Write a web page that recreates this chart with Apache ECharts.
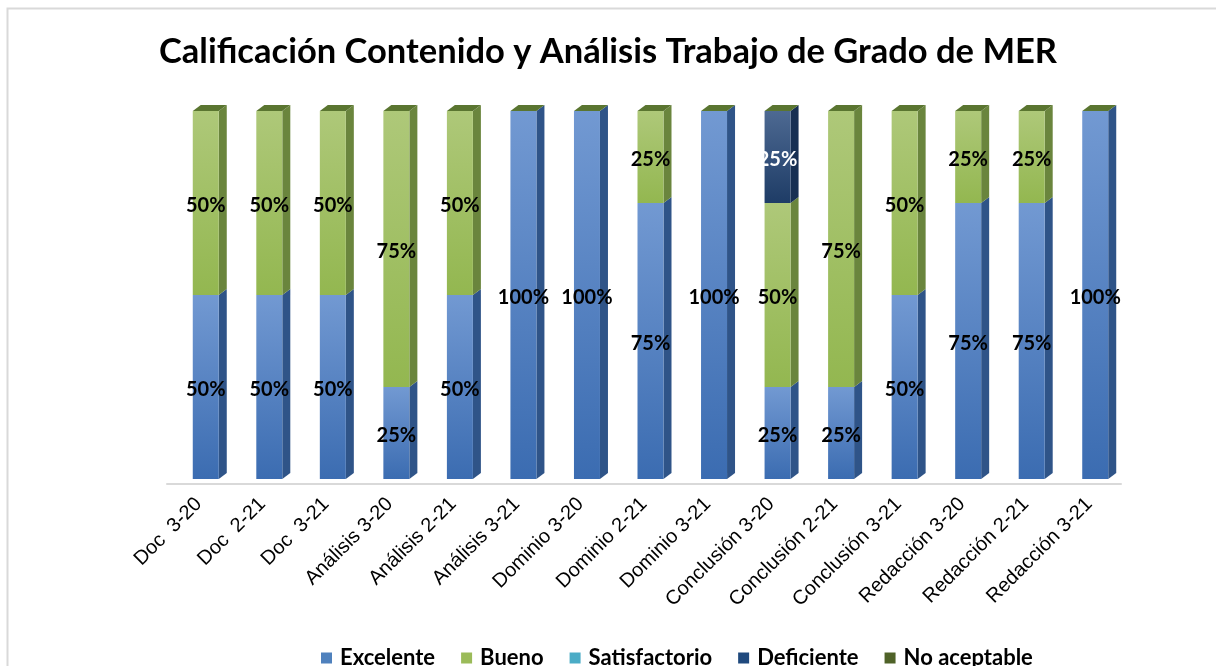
<!DOCTYPE html>
<html>
<head>
<meta charset="utf-8">
<script src="https://cdn.jsdelivr.net/npm/echarts@6/dist/echarts.min.js"></script>
<style>
html,body{margin:0;padding:0;background:#fff;}
#chart{width:1216px;height:666px;}
</style>
</head>
<body>
<div id="chart"></div>
<script>
var categories = ['Doc  3-20','Doc  2-21','Doc  3-21','Análisis 3-20','Análisis 2-21','Análisis 3-21','Dominio 3-20','Dominio 2-21','Dominio 3-21','Conclusión 3-20','Conclusión 2-21','Conclusión 3-21','Redacción 3-20','Redacción 2-21','Redacción 3-21'];
var excelente    = [50,50,50,25,50,100,100,75,100,25,25,50,75,75,100];
var bueno        = [50,50,50,75,50,0,0,25,0,50,75,50,25,25,0];
var satisfactorio= [0,0,0,0,0,0,0,0,0,0,0,0,0,0,0];
var deficiente   = [0,0,0,0,0,0,0,0,0,25,0,0,0,0,0];
var noAceptable  = [0,0,0,0,0,0,0,0,0,0,0,0,0,0,0];
var seriesNames = ['Excelente','Bueno','Satisfactorio','Deficiente','No aceptable'];

var BW = 26, DX = 8, DY = 6;
var solid = ['#4F81BD','#9BBB59','#4BACC6','#1F497D','#4F6228'];
var frontTop = ['#7299D2','#AEC879','#6CC0D6','#4D6992','#6A8A38'];
var frontBot = ['#3B6CB1','#93B750','#3A9AB4','#1E3C66','#4F6228'];
var sideCol = ['#2F5488','#6A853D','#2C7A8F','#172F52','#3E4E1F'];
var capCol = '#5A7530';

function grad(k){
  return new echarts.graphic.LinearGradient(0,0,0,1,[{offset:0,color:frontTop[k]},{offset:1,color:frontBot[k]}]);
}
var dataSets = [excelente,bueno,satisfactorio,deficiente,noAceptable];
var series = dataSets.map(function(arr,k){
  return {
    name: seriesNames[k], type:'bar', stack:'s', barWidth: BW, z: 3,
    xAxisIndex:0, yAxisIndex:0,
    data: arr,
    itemStyle:{color: grad(k)},
    label:{show:true, position:'inside', offset:[0,3], color: k===3 ? '#ffffff' : '#000000',
      fontFamily:'Lato', fontWeight:'bold', fontSize:20,
      formatter:function(p){return p.value>0 ? p.value+'%' : '';}}
  };
});
var custData = categories.map(function(c,i){
  return [i, excelente[i], bueno[i], satisfactorio[i], deficiente[i], noAceptable[i]];
});
series.push({
  type:'custom', z: 2, silent:true, xAxisIndex:0, yAxisIndex:0,
  data: custData,
  renderItem: function(params, api){
    var i = api.value(0);
    var x = api.coord([i,0])[0];
    var left = x - BW/2, right = x + BW/2;
    var cum = 0, children = [];
    for (var k=0;k<5;k++){
      var v = api.value(k+1);
      if (v>0){
        var y0 = api.coord([i,cum])[1];
        cum += v;
        var y1 = api.coord([i,cum])[1];
        children.push({type:'polygon', shape:{points:[[right,y1],[right+DX,y1-DY],[right+DX,y0-DY],[right,y0]]}, style:{fill:sideCol[k]}});
      }
    }
    var yT = api.coord([i,cum])[1];
    children.push({type:'polygon', shape:{points:[[left,yT],[left+DX,yT-DY],[right+DX,yT-DY],[right,yT]]}, style:{fill:capCol}});
    return {type:'group', children:children};
  }
});

var chart = echarts.init(document.getElementById('chart'));
chart.setOption({
  backgroundColor:'#ffffff',
  animation:false,
  title:{text:'Calificación Contenido y Análisis Trabajo de Grado de MER', left:'center', top:29,
    textStyle:{fontFamily:'Lato', fontWeight:'bold', fontSize:34.5, color:'#000'}},
  legend:{left:316, top:642, itemWidth:11, itemHeight:11, itemGap:26,
    textStyle:{fontFamily:'Lato', fontWeight:'bold', fontSize:22, color:'#000', padding:[0,0,0,3]},
    data: seriesNames.map(function(n,k){return {name:n, icon:'rect', itemStyle:{color:solid[k]}};})},
  grid:[{left:174, right:89, top:111, bottom:187},{left:167, right:95, top:111, bottom:182}],
  xAxis:[{type:'category', data:categories, gridIndex:0, show:false},
    {type:'category', data:categories, gridIndex:1,
    axisLine:{show:true, lineStyle:{color:'#D9D9D9', width:2}},
    axisTick:{show:false},
    axisLabel:{rotate:45, margin:17, interval:0, fontFamily:'Liberation Sans', fontSize:20, color:'#000'}}],
  yAxis:[{type:'value', min:0, max:100, show:false, gridIndex:0, splitLine:{show:false}},
    {type:'value', min:0, max:100, show:false, gridIndex:1, splitLine:{show:false}}],
  graphic:[{type:'rect', left:5, top:6, shape:{width:1240, height:700}, style:{fill:'none', stroke:'#D9D9D9', lineWidth:2}, z:-1}],
  series: series
});
</script>
</body>
</html>
